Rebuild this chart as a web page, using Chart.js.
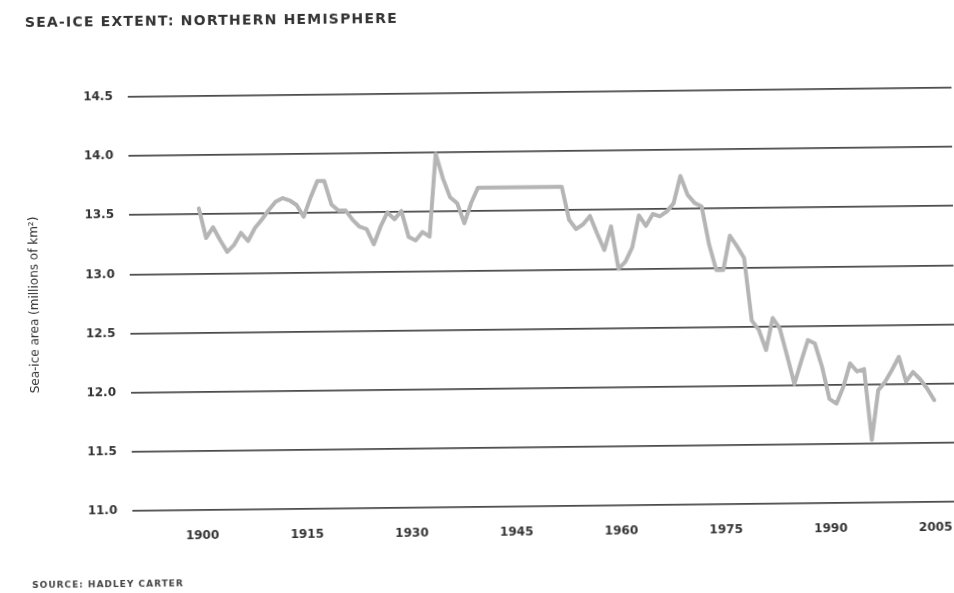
<!DOCTYPE html>
<html>
<head>
<meta charset="utf-8">
<script src="https://cdn.jsdelivr.net/npm/chart.js@4"></script>
<style>
html, body { margin:0; padding:0; background:#fff; }
#wrap { position:relative; width:954px; height:593px; overflow:hidden; transform:rotate(-0.64deg); }
#grafico { position:absolute; left:0; top:0; }
.titulo { position:absolute; left:28px; top:10px; font:bold 14px "DejaVu Sans", sans-serif; letter-spacing:1.2px; color:#333; line-height:1; white-space:nowrap; }
.fonte { position:absolute; left:29px; top:576px; font:bold 9px "DejaVu Sans", sans-serif; letter-spacing:1px; color:#444; line-height:1; white-space:nowrap; }
</style>
</head>
<body>
<div id="wrap">
<canvas id="grafico" width="954" height="593"></canvas>
<div class="titulo">SEA-ICE EXTENT: NORTHERN HEMISPHERE</div>
<div class="fonte">SOURCE: HADLEY CARTER</div>
</div>
<script>
// dados (milhões de km²), um valor por ano
const primeiroAno = 1900;
const extensao = [
13.55, 13.30, 13.39, 13.28, 13.18, 13.24, 13.34, 13.27, 13.38, 13.45,
13.53, 13.60, 13.63, 13.61, 13.57, 13.47, 13.63, 13.77, 13.77, 13.57,
13.52, 13.52, 13.44, 13.38, 13.36, 13.23, 13.38, 13.50, 13.44, 13.51,
13.29, 13.26, 13.33, 13.29, 13.99, 13.78, 13.62, 13.57, 13.40, 13.57,
13.70, 13.70, 13.70, 13.70, 13.70, 13.70, 13.70, 13.70, 13.70, 13.70,
13.70, 13.70, 13.70, 13.42, 13.34, 13.38, 13.45, 13.30, 13.16, 13.36,
13.00, 13.06, 13.18, 13.45, 13.36, 13.46, 13.44, 13.48, 13.55, 13.78,
13.62, 13.55, 13.52, 13.20, 12.98, 12.98, 13.27, 13.18, 13.08, 12.55,
12.47, 12.30, 12.57, 12.48, 12.25, 12.01, 12.20, 12.38, 12.35, 12.15,
11.88, 11.84, 11.98, 12.18, 12.11, 12.13, 11.53, 11.95, 12.02, 12.12,
12.23, 12.02, 12.10, 12.04, 11.96, 11.86
];
const anosEixo = [1900, 1915, 1930, 1945, 1960, 1975, 1990, 2005];
const valoresEixo = [11.0, 11.5, 12.0, 12.5, 13.0, 13.5, 14.0, 14.5];

const anos = extensao.map((v, i) => primeiroAno + i);
const pontos = anos.map((a, i) => ({x: a, y: extensao[i]}));

new Chart(document.getElementById("grafico"), {
type: 'line',
data: {
datasets: [{
data: pontos,
borderColor: '#b5b5b5',
borderWidth: 4,
pointRadius: 0,
tension: 0,
borderJoinStyle: 'round',
borderCapStyle: 'round'
}]
},
options: {
responsive: false,
animation: false,
layout: { padding: { top: 93, bottom: 50, left: 0, right: 0 } },
plugins: { legend: { display: false }, tooltip: { enabled: false } },
scales: {
x: {
type: 'linear',
min: 1890,
max: 2008,
afterBuildTicks: s => { s.ticks = anosEixo.map(v => ({value: v})); },
afterFit: s => { s.height = 36; s.paddingLeft = 0; s.paddingRight = 0; },
grid: { display: false, drawTicks: false },
border: { display: false },
ticks: {
padding: 19,
color: '#333',
font: { family: 'DejaVu Sans', size: 12, weight: 'bold' },
callback: v => String(v)
}
},
y: {
min: 11.0,
max: 14.5,
afterBuildTicks: s => { s.ticks = valoresEixo.map(v => ({value: v})); },
afterFit: s => { s.width = 130; },
grid: { color: '#4a4a4a', lineWidth: 1.7, drawTicks: false },
border: { display: false },
ticks: {
padding: 15,
color: '#333',
font: { family: 'DejaVu Sans', size: 12, weight: 'bold' },
callback: v => v.toFixed(1)
},
title: {
display: true,
text: 'Sea-ice area (millions of km²)',
color: '#333',
font: { family: 'DejaVu Sans', size: 12 },
padding: { top: 28, bottom: 0 }
}
}
}
}
});
</script>
</body>
</html>
